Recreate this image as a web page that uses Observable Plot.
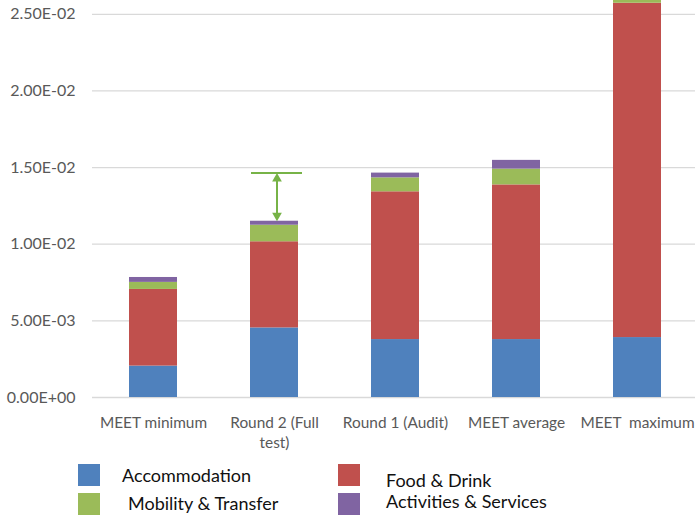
<!DOCTYPE html>
<html>
<head>
<meta charset="utf-8">
<script src="https://cdn.jsdelivr.net/npm/d3@7"></script>
<script src="https://cdn.jsdelivr.net/npm/@observablehq/plot@0.6"></script>
<style>
  body { margin: 0; background: #fff; font-family: Lato, "Open Sans", sans-serif; }
  #wrap { position: relative; width: 695px; height: 517px; overflow: hidden; }
  .sw { position: absolute; width: 22px; height: 22px; }
  .lt { position: absolute; font-size: 18px; color: #111; line-height: 20px; white-space: nowrap; }
</style>
</head>
<body>
<div id="wrap"><div id="chart"></div></div>
<script>
const categories = ["MEET minimum", "Round 2 (Full test)", "Round 1 (Audit)", "MEET average", "MEET  maximum"];
const tickLabels = ["MEET minimum", "Round 2 (Full\ntest)", "Round 1 (Audit)", "MEET average", "MEET  maximum"];
const seriesNames = ["Accommodation", "Food & Drink", "Mobility & Transfer", "Activities & Services"];
const accommodation = [0.00205, 0.00454, 0.00378, 0.00378, 0.00391];
const foodDrink     = [0.00500, 0.00562, 0.00964, 0.01009, 0.02181];
const mobility      = [0.00046, 0.00108, 0.00091, 0.00103, 0.00090];
const activities    = [0.00032, 0.00026, 0.00031, 0.00057, 0.00050];
const yTicks = [0, 0.005, 0.01, 0.015, 0.02, 0.025];
const colors = ["#4f81bd", "#c0504d", "#9bbb59", "#8064a2"];

const seriesValues = [accommodation, foodDrink, mobility, activities];
const data = [];
seriesNames.forEach((s, i) => categories.forEach((c, j) => data.push({category: c, series: s, value: seriesValues[i][j]})));

const total = j => seriesValues.reduce((a, arr) => a + arr[j], 0);
const r2 = total(1), r1 = total(2);
const arrowCat = categories[1];
const green = "#77b347";

const fmt = v => v.toExponential(2).toUpperCase().replace(/E([+-])(\d)$/, "E$10$2");

const chart = Plot.plot({
  width: 695,
  height: 455,
  marginTop: 0,
  marginBottom: 58,
  marginLeft: 92,
  marginRight: 0,
  style: {fontFamily: "Lato, 'Open Sans', sans-serif", fontSize: "16px", background: "#fff"},
  x: {domain: categories, range: [92.5, 697.5], paddingInner: 0.6, paddingOuter: 0.3, label: null},
  y: {domain: [0, 0.0259], label: null},
  color: {domain: seriesNames, range: colors},
  marks: [
    Plot.gridY(yTicks, {stroke: "#d9d9d9", strokeOpacity: 1, strokeWidth: 1.3}),
    Plot.barY(data, {x: "category", y: "value", fill: "series", clip: true}),
    Plot.axisY({ticks: yTicks, tickSize: 0, tickPadding: 17, tickFormat: fmt, fill: "#595959", fontSize: 16}),
    Plot.axisX({tickSize: 0, tickPadding: 16, tickFormat: (d, i) => tickLabels[categories.indexOf(d)], fill: "#595959", fontSize: 15.4, lineHeight: 1.3}),
    Plot.tickY([{x: arrowCat, y: r1}], {x: "x", y: "y", stroke: green, strokeWidth: 2, insetLeft: 1, insetRight: -4}),
    Plot.ruleX([{x: arrowCat, y1: r1, y2: r2}], {x: "x", y1: "y1", y2: "y2", stroke: green, strokeWidth: 2, dx: 2.5, insetTop: 5, insetBottom: 5}),
    Plot.dot([{x: arrowCat, y: r1}], {x: "x", y: "y", symbol: "triangle", r: 3.6, fill: green, stroke: "none", dx: 2.5, dy: 5.6}),
    Plot.dot([{x: arrowCat, y: r2}], {x: "x", y: "y", symbol: "triangle", r: 3.6, fill: green, stroke: "none", rotate: 180, dx: 2.5, dy: -5.6})
  ]
});
document.getElementById("chart").appendChild(chart);

const legendItems = [
  {name: seriesNames[0], color: colors[0], sx: 78, sy: 464, tx: 122, ty: 465},
  {name: seriesNames[2], color: colors[2], sx: 78, sy: 493, tx: 128, ty: 493},
  {name: seriesNames[1], color: colors[1], sx: 338, sy: 464, tx: 386, ty: 470},
  {name: seriesNames[3], color: colors[3], sx: 338, sy: 493, tx: 386, ty: 491}
];
const wrap = document.getElementById("wrap");
legendItems.forEach(it => {
  const s = document.createElement("div");
  s.className = "sw"; s.style.left = it.sx + "px"; s.style.top = it.sy + "px"; s.style.background = it.color;
  wrap.appendChild(s);
  const t = document.createElement("div");
  t.className = "lt"; t.style.left = it.tx + "px"; t.style.top = it.ty + "px"; t.textContent = it.name;
  wrap.appendChild(t);
});
</script>
</body>
</html>
